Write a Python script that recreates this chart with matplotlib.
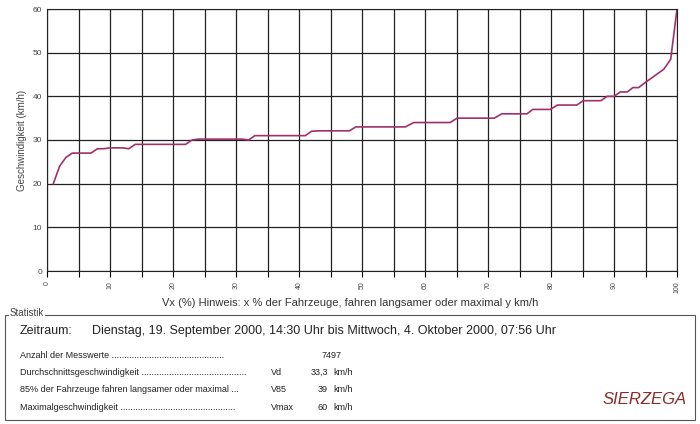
import matplotlib.pyplot as plt
from matplotlib.patches import Rectangle

pct = [1, 2, 3, 4, 7, 8, 9, 10, 12, 13, 14, 22, 23, 24, 31, 32, 33, 41, 42, 43,
       48, 49, 56.9, 58.2, 64.0, 65.1, 71.0, 72.2, 76.2, 77.1, 79.9, 81.0, 84.1,
       85.1, 87.9, 88.9, 90.0, 91.0, 92.1, 93.0, 93.9, 95.0, 97.9, 99.0, 100]
speed = [20, 24, 26, 27, 27, 28, 28, 28.2, 28.2, 28, 29, 29, 30, 30.2, 30.2, 30, 31, 31, 32, 32.1,
         32.1, 33, 33, 34, 34, 35, 35, 36, 36, 37, 37, 38, 38,
         39, 39, 40, 40, 41, 41, 42, 42, 43.2, 46.2, 48.5, 60]

labels = ["Anzahl der Messwerte .............................................",
          "Durchschnittsgeschwindigkeit ..........................................",
          "85% der Fahrzeuge fahren langsamer oder maximal ...",
          "Maximalgeschwindigkeit .............................................."]
symbols = ["", "Vd", "V85", "Vmax"]
values = ["7497", "33,3", "39", "60"]
units = ["", "km/h", "km/h", "km/h"]

plt.rcParams['font.family'] = ['Liberation Sans', 'DejaVu Sans']
fig = plt.figure(figsize=(7, 4.24), dpi=100)
ax = fig.add_axes([47/700, 1 - 271/424, 630/700, 262/424])
ax.plot(pct, speed, color='#a0306a', lw=1.2)
ax.set_xlim(0, 100)
ax.set_ylim(0, 60)
ax.set_xticks(range(0, 101, 5))
ax.set_xticklabels([str(v) if v % 10 == 0 else '' for v in range(0, 101, 5)],
                   rotation=90, fontsize=5, color='#444')
ax.set_yticks(range(0, 61, 10))
ax.tick_params(axis='y', labelsize=6, colors='#444', length=0)
ax.tick_params(axis='x', length=4)
ax.grid(True, color='#222', lw=0.9)
for s in ax.spines.values():
    s.set_color('#222')
ax.set_ylabel('Geschwindigkeit (km/h)', fontsize=7, color='#444', labelpad=4)
fig.text(0.5, 1 - 303/424, 'Vx (%) Hinweis: x % der Fahrzeuge, fahren langsamer oder maximal y km/h',
         ha='center', va='center', fontsize=8, color='#333')

fig.patches.append(Rectangle((5/700, 1 - 420/424), 690/700, 105/424, transform=fig.transFigure,
                             fill=False, ec='#555', lw=0.8))
fig.text(10/700, 1 - 313/424, 'Statistik', fontsize=7, color='#444', va='center',
         bbox=dict(fc='white', ec='none', pad=0.5))
fig.text(20/700, 1 - 331/424, 'Zeitraum:', fontsize=9, color='#222', va='center')
fig.text(92/700, 1 - 331/424,
         'Dienstag, 19. September 2000, 14:30 Uhr bis Mittwoch, 4. Oktober 2000, 07:56 Uhr',
         fontsize=9, color='#222', va='center')
for i in range(4):
    y = 1 - (355 + i * 17.5) / 424
    fig.text(20/700, y, labels[i], fontsize=6.5, color='#222', va='center')
    fig.text(271/700, y, symbols[i], fontsize=6.5, color='#222', va='center')
    if i == 0:
        fig.text(322/700, y, values[i], fontsize=6.5, color='#222', va='center')
    else:
        fig.text(328/700, y, values[i], fontsize=6.5, color='#222', va='center', ha='right')
    fig.text(333/700, y, units[i], fontsize=6.5, color='#222', va='center')
fig.text(645/700, 1 - 400/424, 'SIERZEGA', fontsize=12, color='#8b2a2a', style='italic',
         ha='center', va='center')
fig.savefig('out.png', dpi=100)
